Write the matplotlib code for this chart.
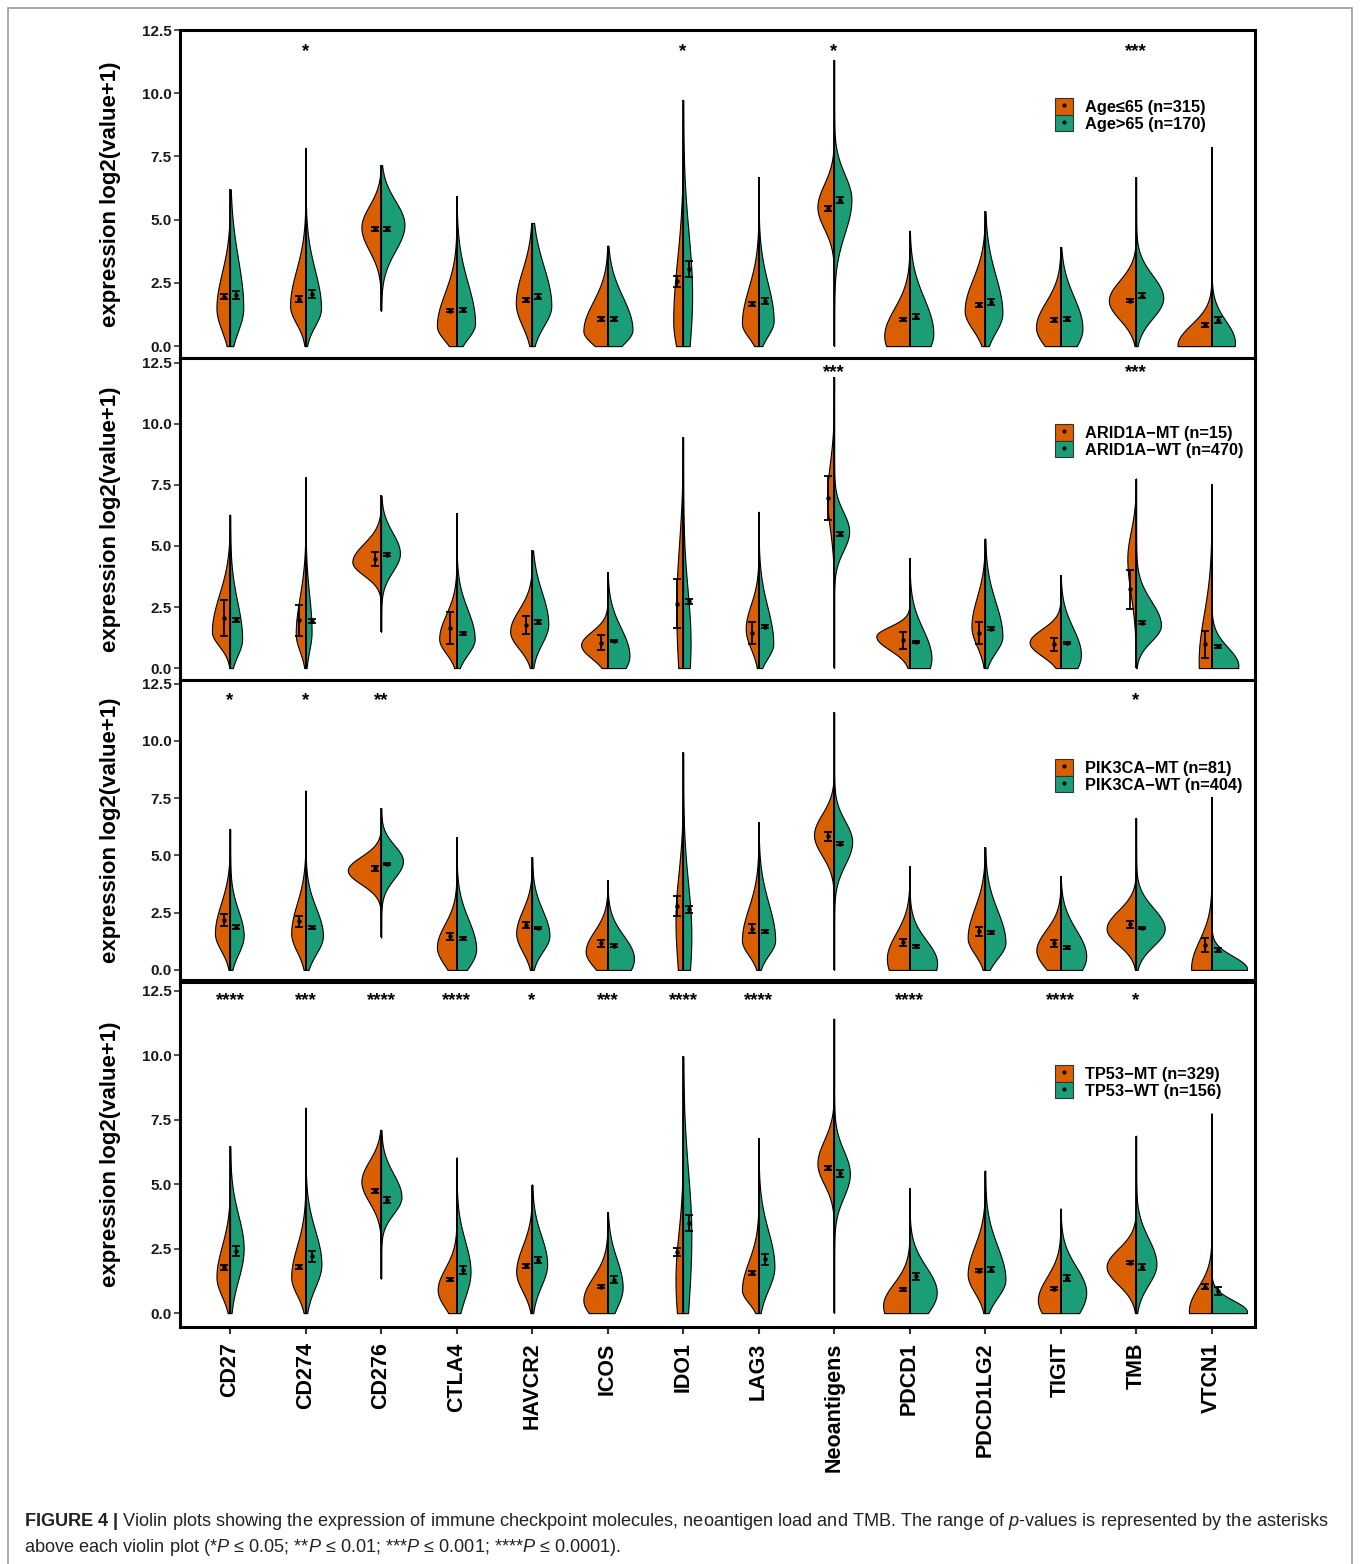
import numpy as np
import matplotlib
matplotlib.use("Agg")
import matplotlib.pyplot as plt
from matplotlib.patches import Patch, Rectangle
from matplotlib.lines import Line2D

plt.rcParams['font.family'] = ['Liberation Sans', 'DejaVu Sans']
plt.rcParams['mathtext.fontset'] = 'custom'
plt.rcParams['mathtext.rm'] = 'Liberation Sans'
plt.rcParams['mathtext.it'] = 'Liberation Sans:italic'
plt.rcParams['mathtext.bf'] = 'Liberation Sans:bold'

ORANGE = '#D95F02'
TEAL = '#1B9E77'

genes = ['CD27', 'CD274', 'CD276', 'CTLA4', 'HAVCR2', 'ICOS', 'IDO1', 'LAG3',
         'Neoantigens', 'PDCD1', 'PDCD1LG2', 'TIGIT', 'TMB', 'VTCN1']

# ---- panel 1 : age ----
labels1 = ['Age≤65 (n=315)', 'Age>65 (n=170)']
tops1 = [6.2, 7.84, 7.16, 5.93, 4.87, 3.97, 9.74, 6.69, 11.32, 4.56, 5.33, 3.92, 6.68, 7.87]
lows1 = [0, 0, 1.4, 0, 0, 0, 0, 0, 0, 0, 0, 0, 0, 0]
# half-violin shape per gene: (mode, max half width, spread below, spread above)
shapeA1 = [(1.5, .18, .9, 1.4), (1.6, .205, .7, 1.4), (4.7, .26, .92, .85), (.8, .26, .58, 1.3),
           (1.7, .215, .9, 1.3), (.6, .32, .53, 1.15), (1.0, .13, 1.2, 2.4), (.9, .22, .55, 1.4),
           (5.5, .22, .85, .9), (.4, .335, 1.0, 1.1), (1.4, .27, .75, 1.25), (.75, .325, .8, 1.0),
           (1.8, .36, .75, .8), (.05, .45, 1.0, .8)]
shapeB1 = [(1.5, .175, .9, 1.95), (1.5, .205, .7, 1.5), (4.8, .31, 1.03, .95), (.9, .245, .6, 1.6),
           (1.6, .255, .8, 1.55), (.65, .33, .6, 1.3), (2.0, .12, 2.5, 2.5), (1.0, .2, .6, 1.5),
           (5.8, .23, 1.35, 1.0), (.5, .315, 1.0, 1.4), (1.3, .23, .75, 1.5), (.7, .29, .9, 1.25),
           (1.9, .36, .8, .9), (.15, .31, 1.0, .85)]
meanA1 = [1.96, 1.85, 4.63, 1.4, 1.83, 1.08, 2.57, 1.67, 5.46, 1.06, 1.61, 1.03, 1.8, 0.85]
errA1 = [0.1, 0.12, 0.07, 0.07, 0.08, 0.07, 0.22, 0.07, 0.1, 0.07, 0.08, 0.07, 0.07, 0.08]
meanB1 = [2.02, 2.06, 4.63, 1.43, 1.96, 1.08, 3.05, 1.8, 5.77, 1.16, 1.76, 1.08, 2.0, 1.03]
errB1 = [0.15, 0.15, 0.08, 0.08, 0.1, 0.08, 0.3, 0.12, 0.13, 0.1, 0.12, 0.08, 0.1, 0.12]
sig1 = ['', '*', '', '', '', '', '*', '', '*', '', '', '', '***', '']

# ---- panel 2 : ARID1A ----
labels2 = ['ARID1A−MT (n=15)', 'ARID1A−WT (n=470)']
tops2 = [6.28, 7.81, 7.07, 6.35, 4.82, 3.92, 9.46, 6.4, 11.92, 4.51, 5.3, 3.81, 7.76, 7.53]
lows2 = [0, 0, 1.49, 0, 0, 0, 0, 0, 0, 0, 0, 0, 0, 0]
shapeA2 = [(1.5, .24, .6, 1.5), (1.4, .13, .7, 1.5), (4.35, .38, .55, .75), (1.2, .23, .6, 1.0),
           (1.5, .29, .7, .9), (.95, .35, .55, .55), (2.5, .09, 3.0, 2.5), (1.6, .17, .8, 1.0),
           (7.0, .09, 1.3, 1.4), (1.3, .44, .55, .4), (1.7, .18, .8, 1.2), (1.05, .41, .55, .55),
           (4.5, .115, 1.5, 1.1), (.3, .17, 2.0, 1.9)]
shapeB2 = [(1.2, .16, .7, 1.5), (1.5, .08, .8, 1.5), (4.7, .25, .75, .85), (1.2, .24, .65, 1.2),
           (1.8, .215, .8, 1.3), (.5, .29, .8, 1.15), (1.0, .1, 2.0, 2.2), (1.0, .195, .6, 1.5),
           (5.6, .2, .8, .8), (.4, .29, 1.0, 1.2), (1.3, .23, .65, 1.4), (.55, .27, .9, 1.1),
           (1.75, .33, .65, 1.0), (.1, .355, 1.0, .75)]
meanA2 = [2.05, 1.96, 4.46, 1.65, 1.78, 1.04, 2.64, 1.45, 6.95, 1.14, 1.45, 0.97, 3.23, 0.97]
errA2 = [0.74, 0.63, 0.3, 0.65, 0.37, 0.3, 1.0, 0.45, 0.9, 0.35, 0.45, 0.26, 0.8, 0.55]
meanB2 = [1.96, 1.93, 4.64, 1.42, 1.89, 1.1, 2.74, 1.69, 5.49, 1.07, 1.62, 1.03, 1.85, 0.9]
errB2 = [0.08, 0.08, 0.06, 0.06, 0.07, 0.05, 0.1, 0.06, 0.07, 0.05, 0.06, 0.05, 0.06, 0.06]
sig2 = ['', '', '', '', '', '', '', '', '***', '', '', '', '***', '']

# ---- panel 3 : PIK3CA ----
labels3 = ['PIK3CA−MT (n=81)', 'PIK3CA−WT (n=404)']
tops3 = [6.16, 7.83, 7.07, 5.8, 4.93, 3.91, 9.5, 6.45, 11.25, 4.54, 5.36, 4.1, 6.64, 7.55]
lows3 = [0, 0, 1.42, 0, 0, 0, 0, 0, 0, 0, 0, 0, 0, 0]
shapeA3 = [(1.6, .2, .75, 1.3), (1.6, .19, .8, 1.3), (4.35, .44, .6, .6), (1.0, .26, .8, 1.0),
           (1.6, .21, .8, 1.0), (.8, .29, .7, .9), (2.2, .1, 2.5, 2.0), (1.3, .22, .65, 1.4),
           (5.9, .265, .9, .9), (.5, .3, 1.2, 1.1), (1.4, .23, .7, 1.3), (.85, .32, .8, .9),
           (1.8, .39, .7, .8), (.1, .27, 1.0, 1.2)]
shapeB3 = [(1.5, .18, .8, 1.1), (1.5, .23, .8, 1.2), (4.75, .29, .75, .7), (.9, .26, .8, 1.3),
           (1.5, .23, .7, 1.1), (.5, .35, 1.0, 1.0), (1.5, .11, 2.5, 2.3), (1.3, .22, .65, 1.6),
           (5.6, .24, 1.0, .9), (.3, .365, 1.2, 1.0), (1.2, .27, .7, 1.4), (.6, .34, 1.0, 1.15),
           (1.8, .38, .75, .9), (.05, .47, 1.0, .55)]
meanA3 = [2.19, 2.12, 4.43, 1.46, 1.96, 1.17, 2.78, 1.8, 5.83, 1.2, 1.68, 1.17, 2.0, 1.09]
errA3 = [0.25, 0.25, 0.13, 0.15, 0.15, 0.15, 0.43, 0.2, 0.2, 0.15, 0.18, 0.15, 0.15, 0.3]
meanB3 = [1.88, 1.86, 4.64, 1.38, 1.83, 1.06, 2.65, 1.68, 5.52, 1.03, 1.64, 0.99, 1.83, 0.87]
errB3 = [0.08, 0.07, 0.05, 0.06, 0.06, 0.06, 0.15, 0.06, 0.08, 0.06, 0.06, 0.06, 0.06, 0.07]
sig3 = ['*', '*', '**', '', '', '', '', '', '', '', '', '', '*', '']

# ---- panel 4 : TP53 ----
labels4 = ['TP53−MT (n=329)', 'TP53−WT (n=156)']
tops4 = [6.47, 7.96, 7.1, 6.03, 4.98, 3.92, 9.96, 6.78, 11.41, 4.83, 5.52, 4.05, 6.87, 7.73]
lows4 = [0, 0, 1.34, 0, 0, 0, 0, 0, 0, 0, 0, 0, 0, 0]
shapeA4 = [(1.4, .18, .75, 1.2), (1.4, .19, .7, 1.2), (5.1, .26, .8, .8), (.9, .25, .7, .85),
           (1.6, .21, .75, 1.0), (.5, .32, .7, .9), (1.3, .1, 2.0, 1.8), (.9, .22, .5, 1.1),
           (5.8, .22, .8, .9), (.3, .35, 1.0, .85), (1.5, .23, .7, 1.1), (.5, .3, .8, .9),
           (1.8, .39, .7, .7), (.1, .3, 1.0, .9)]
shapeB4 = [(2.5, .18, 1.2, 1.3), (1.9, .21, .9, 1.3), (4.5, .27, .65, .9), (1.6, .185, 1.0, 1.2),
           (1.9, .2, .85, 1.1), (1.0, .2, .8, 1.1), (3.0, .11, 3.0, 2.5), (1.8, .21, .9, 1.4),
           (5.4, .21, .9, .9), (.8, .36, .9, 1.0), (1.3, .27, .7, 1.3), (.8, .34, 1.0, 1.0),
           (1.9, .27, .8, 1.0), (.05, .47, 1.0, .45)]
meanA4 = [1.78, 1.78, 4.74, 1.32, 1.83, 1.02, 2.37, 1.55, 5.61, 0.92, 1.65, 0.95, 1.95, 1.02]
errA4 = [0.1, 0.08, 0.07, 0.06, 0.08, 0.06, 0.15, 0.08, 0.08, 0.06, 0.07, 0.05, 0.06, 0.1]
meanB4 = [2.4, 2.2, 4.39, 1.68, 2.06, 1.3, 3.5, 2.08, 5.42, 1.42, 1.68, 1.36, 1.8, 0.86]
errB4 = [0.2, 0.2, 0.12, 0.15, 0.12, 0.12, 0.3, 0.2, 0.13, 0.12, 0.1, 0.1, 0.12, 0.15]
sig4 = ['****', '***', '****', '****', '*', '***', '****', '****', '', '****', '', '****', '*', '']

panels = [
    dict(labels=labels1, tops=tops1, lows=lows1, sa=shapeA1, sb=shapeB1, ma=meanA1, ea=errA1,
         mb=meanB1, eb=errB1, sig=sig1),
    dict(labels=labels2, tops=tops2, lows=lows2, sa=shapeA2, sb=shapeB2, ma=meanA2, ea=errA2,
         mb=meanB2, eb=errB2, sig=sig2),
    dict(labels=labels3, tops=tops3, lows=lows3, sa=shapeA3, sb=shapeB3, ma=meanA3, ea=errA3,
         mb=meanB3, eb=errB3, sig=sig3),
    dict(labels=labels4, tops=tops4, lows=lows4, sa=shapeA4, sb=shapeB4, ma=meanA4, ea=errA4,
         mb=meanB4, eb=errB4, sig=sig4),
]

# layout (figure fractions) and per panel y ranges
boxes = [(0.1324, 0.7711, 0.7904, 0.2097),
         (0.1324, 0.5652, 0.7904, 0.2059),
         (0.1324, 0.3734, 0.7904, 0.1918),
         (0.1324, 0.1515, 0.7904, 0.2206)]
ylims = [(-0.47, 12.49), (-0.49, 12.7), (-0.44, 12.66), (-0.54, 12.83)]
sig_y = [0.933, 0.955, 0.930, 0.946]
leg_y = [0.741, 0.742, 0.680, 0.710]


def half_width(y, m, w, sl, sh):
    d = y - m
    s = np.where(d < 0, sl, sh)
    return w * np.exp(-0.5 * (d / s) ** 2)


fig = plt.figure(figsize=(13.6, 15.64), dpi=100)

for k, p in enumerate(panels):
    ax = fig.add_axes(boxes[k])
    for i in range(len(genes)):
        y = np.linspace(p['lows'][i], p['tops'][i], 400)
        wa = half_width(y, *p['sa'][i])
        wb = half_width(y, *p['sb'][i])
        ax.fill_betweenx(y, i - wa, i, facecolor=ORANGE, edgecolor='black', lw=0.8, zorder=2)
        ax.fill_betweenx(y, i, i + wb, facecolor=TEAL, edgecolor='black', lw=0.8, zorder=2)
        ax.vlines(i, p['lows'][i], p['tops'][i], color='black', lw=1.3, zorder=3)
        if p['sig'][i]:
            ax.text(i, sig_y[k], p['sig'][i], transform=ax.get_xaxis_transform(),
                    ha='center', va='center', fontsize=13.5, fontweight='bold')
    xs = np.arange(len(genes))
    ax.errorbar(xs - 0.085, p['ma'], yerr=p['ea'], fmt='o', ms=2.2, color='black',
                elinewidth=1.3, capsize=3, capthick=1.3, zorder=4)
    ax.errorbar(xs + 0.085, p['mb'], yerr=p['eb'], fmt='o', ms=2.2, color='black',
                elinewidth=1.3, capsize=3, capthick=1.3, zorder=4)

    ax.set_xlim(-0.662, 13.576)
    ax.set_ylim(*ylims[k])
    ax.set_yticks([0, 2.5, 5, 7.5, 10, 12.5])
    ax.set_yticklabels(['%.1f' % v for v in [0, 2.5, 5, 7.5, 10, 12.5]],
                       fontsize=11, fontweight='bold', color='#1a1a1a')
    ax.tick_params(axis='y', length=4, width=1.2, color='#333333', pad=2)
    ax.set_ylabel('expression log2(value+1)', fontsize=16, fontweight='bold')
    ax.yaxis.set_label_coords(-0.055, 0.5)
    for s in ax.spines.values():
        s.set_linewidth(2.2)
        s.set_color('black')
    if k == 3:
        ax.set_xticks(xs)
        ax.set_xticklabels(genes, rotation=90, fontsize=15.5, fontweight='bold')
        ax.tick_params(axis='x', length=5, width=1.5, color='#333333', pad=6)
    else:
        ax.set_xticks([])

    handles = [(Patch(facecolor=ORANGE, edgecolor='#333333', lw=0.8),
                Line2D([], [], marker='o', ms=2, color='black', ls='')),
               (Patch(facecolor=TEAL, edgecolor='#333333', lw=0.8),
                Line2D([], [], marker='o', ms=2, color='black', ls=''))]
    ax.legend(handles, p['labels'], loc='center left', bbox_to_anchor=(0.814, leg_y[k]),
              frameon=False, handlelength=1.1, handleheight=1.15, labelspacing=0.0,
              handletextpad=0.7, borderpad=0, borderaxespad=0,
              prop={'weight': 'bold', 'size': 11.8})

# figure border and caption
fig.patches.append(Rectangle((8 / 1360, -0.01), 1344 / 1360, 1 - 8 / 1564 + 0.01,
                             transform=fig.transFigure, fill=False, edgecolor='#9a9a9a', lw=1.2))
cap1 = (r"$\mathbf{FIGURE\ 4\ |}$ Violin plots showing the expression of immune checkpoint molecules, "
        r"neoantigen load and TMB. The range of $\mathit{p}$-values is represented by the asterisks")
cap2 = (r"above each violin plot (*$\mathit{P}$ ≤ 0.05; **$\mathit{P}$ ≤ 0.01; "
        r"***$\mathit{P}$ ≤ 0.001; ****$\mathit{P}$ ≤ 0.0001).")
fig.text(24 / 1360, 1 - 1522 / 1564, cap1, fontsize=13.1, va='center', ha='left', color='#222222')
fig.text(24 / 1360, 1 - 1548 / 1564, cap2, fontsize=13.1, va='center', ha='left', color='#222222')

fig.savefig('out.png', dpi=100)
